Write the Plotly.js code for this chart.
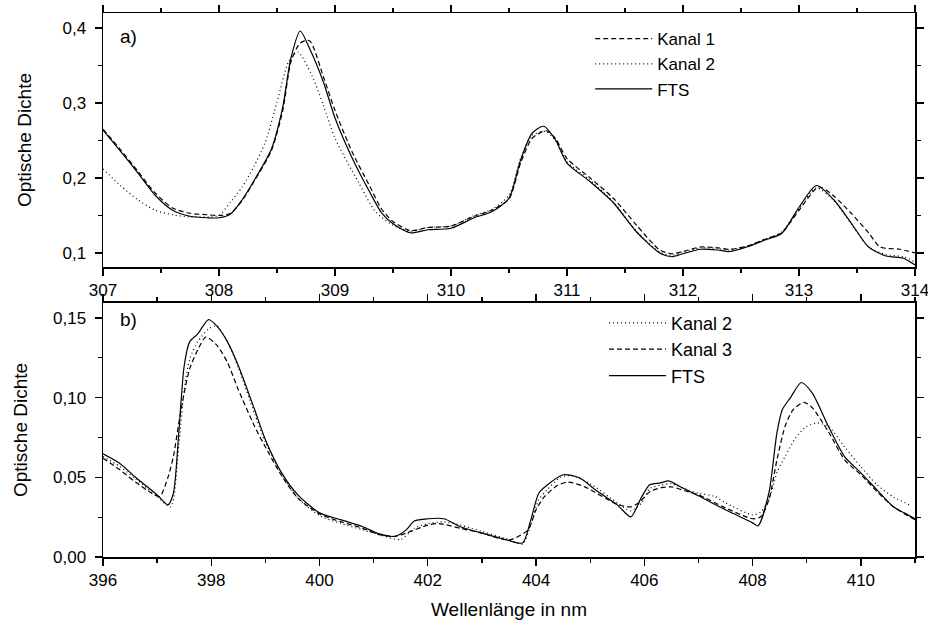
<!DOCTYPE html>
<html>
<head>
<meta charset="utf-8">
<script src="https://cdn.plot.ly/plotly-3.0.1.min.js"></script>
<style>html,body{margin:0;padding:0;background:#fff;}#chart{width:928px;height:624px;}</style>
</head>
<body>
<div id="chart"></div>
<script>
// ---- Panel a) 307–314 nm ----
const topFtsX = [307.0, 307.15, 307.3, 307.45, 307.6, 307.75, 307.9, 308.0, 308.1, 308.2, 308.3, 308.45, 308.55, 308.62, 308.7, 308.78, 308.9, 309.0, 309.15, 309.3, 309.4, 309.5, 309.65, 309.8, 310.0, 310.2, 310.35, 310.5, 310.6, 310.7, 310.8, 310.9, 311.0, 311.2, 311.4, 311.6, 311.8, 311.9, 312.0, 312.15, 312.3, 312.4, 312.55, 312.7, 312.85, 313.0, 313.15, 313.3, 313.45, 313.6, 313.75, 313.9, 314.0];
const topFtsY = [0.264, 0.236, 0.207, 0.177, 0.157, 0.149, 0.147, 0.147, 0.152, 0.171, 0.196, 0.238, 0.295, 0.36, 0.396, 0.373, 0.328, 0.28, 0.226, 0.181, 0.154, 0.139, 0.127, 0.131, 0.133, 0.147, 0.155, 0.173, 0.224, 0.26, 0.269, 0.251, 0.22, 0.195, 0.167, 0.128, 0.1, 0.095, 0.099, 0.105, 0.104, 0.102, 0.108, 0.117, 0.126, 0.161, 0.19, 0.171, 0.14, 0.108, 0.096, 0.093, 0.084];

const topK1X = [307.0, 307.15, 307.3, 307.45, 307.6, 307.75, 307.9, 308.0, 308.1, 308.2, 308.3, 308.45, 308.55, 308.62, 308.7, 308.78, 308.9, 309.0, 309.15, 309.3, 309.4, 309.5, 309.65, 309.8, 310.0, 310.2, 310.35, 310.5, 310.6, 310.7, 310.82, 310.9, 311.0, 311.2, 311.4, 311.6, 311.8, 311.9, 312.0, 312.15, 312.3, 312.4, 312.55, 312.7, 312.85, 313.0, 313.17, 313.3, 313.45, 313.6, 313.7, 313.87, 314.0];
const topK1Y = [0.265, 0.238, 0.209, 0.18, 0.16, 0.153, 0.151, 0.15, 0.153, 0.17, 0.195, 0.236, 0.29, 0.355, 0.38, 0.383, 0.335, 0.29, 0.234, 0.189, 0.159, 0.142, 0.13, 0.134, 0.136, 0.149, 0.157, 0.172, 0.22, 0.253, 0.263, 0.253, 0.226, 0.2, 0.173, 0.137, 0.104, 0.099, 0.102, 0.108, 0.107, 0.105, 0.109, 0.118, 0.127, 0.157, 0.188, 0.176, 0.153, 0.127, 0.108, 0.105, 0.1];

const topK2X = [307.0, 307.15, 307.3, 307.45, 307.6, 307.75, 307.9, 308.0, 308.1, 308.2, 308.3, 308.4, 308.5, 308.6, 308.68, 308.8, 308.9, 309.0, 309.2, 309.35, 309.5, 309.65, 309.8, 310.0, 310.2, 310.35, 310.5, 310.6, 310.7, 310.82, 310.9, 311.0, 311.2, 311.4, 311.6, 311.8, 311.9, 312.0, 312.15, 312.3, 312.4, 312.55, 312.7, 312.85, 313.0, 313.15, 313.3, 313.45, 313.6, 313.75, 313.9, 314.0];
const topK2Y = [0.212, 0.19, 0.171, 0.157, 0.151, 0.148, 0.148, 0.15, 0.168, 0.188, 0.215, 0.248, 0.301, 0.355, 0.368, 0.337, 0.297, 0.253, 0.195, 0.155, 0.137, 0.129, 0.134, 0.136, 0.15, 0.158, 0.177, 0.226, 0.257, 0.262, 0.25, 0.222, 0.197, 0.168, 0.129, 0.101, 0.097, 0.1, 0.107, 0.106, 0.104, 0.109, 0.118, 0.128, 0.159, 0.187, 0.17, 0.139, 0.108, 0.098, 0.095, 0.088];

// ---- Panel b) 396–411 nm ----
const botFtsX = [396.0, 396.3, 396.6, 397.0, 397.2, 397.3, 397.4, 397.5, 397.6, 397.75, 397.95, 398.1, 398.3, 398.5, 398.8, 399.0, 399.3, 399.6, 400.0, 400.4, 400.8, 401.1, 401.4, 401.6, 401.75, 402.0, 402.3, 402.6, 403.0, 403.4, 403.75, 403.9, 404.05, 404.2, 404.5, 404.8, 405.1, 405.5, 405.75, 405.95, 406.1, 406.3, 406.45, 406.7, 407.0, 407.5, 408.0, 408.1, 408.3, 408.45, 408.55, 408.7, 408.9, 409.1, 409.4, 409.7, 410.0, 410.3, 410.6, 410.8, 411.0];
const botFtsY = [0.0648, 0.059, 0.05, 0.039, 0.0327, 0.04, 0.078, 0.12, 0.135, 0.14, 0.149, 0.145, 0.135, 0.12, 0.0925, 0.0736, 0.0528, 0.039, 0.0277, 0.0233, 0.019, 0.0145, 0.013, 0.017, 0.0226, 0.024, 0.024, 0.019, 0.015, 0.0113, 0.0088, 0.023, 0.04, 0.045, 0.0516, 0.0497, 0.042, 0.0327, 0.0252, 0.0377, 0.0453, 0.0465, 0.0478, 0.0434, 0.0384, 0.0296, 0.0214, 0.0195, 0.04, 0.078, 0.0925, 0.1, 0.1095, 0.103, 0.082, 0.063, 0.0528, 0.042, 0.0315, 0.0277, 0.024];

const botK3X = [396.0, 396.3, 396.6, 396.9, 397.05, 397.2, 397.3, 397.4, 397.5, 397.6, 397.75, 397.9, 398.1, 398.3, 398.5, 398.8, 399.0, 399.3, 399.6, 400.0, 400.4, 400.8, 401.1, 401.4, 401.6, 402.0, 402.2, 402.6, 403.0, 403.5, 403.85, 404.0, 404.15, 404.4, 404.6, 404.9, 405.5, 405.75, 405.9, 406.1, 406.3, 406.5, 406.8, 407.0, 407.5, 408.0, 408.15, 408.3, 408.45, 408.6, 408.75, 408.95, 409.1, 409.4, 409.7, 410.0, 410.3, 410.6, 410.9, 411.0];
const botK3Y = [0.062, 0.055, 0.047, 0.04, 0.038, 0.05, 0.063, 0.084, 0.103, 0.118, 0.13, 0.138, 0.133, 0.122, 0.105, 0.082, 0.069, 0.051, 0.037, 0.027, 0.022, 0.018, 0.014, 0.013, 0.015, 0.02, 0.021, 0.018, 0.015, 0.0107, 0.017, 0.0296, 0.0377, 0.045, 0.047, 0.044, 0.033, 0.0315, 0.034, 0.041, 0.0434, 0.044, 0.041, 0.039, 0.0308, 0.024, 0.0252, 0.0358, 0.061, 0.082, 0.0925, 0.097, 0.0937, 0.0786, 0.061, 0.0516, 0.041, 0.0315, 0.0252, 0.0233];

const botK2X = [396.0, 396.3, 396.6, 397.0, 397.25, 397.4, 397.5, 397.6, 397.75, 397.95, 398.1, 398.3, 398.5, 398.8, 399.0, 399.3, 399.6, 400.0, 400.4, 400.8, 401.1, 401.5, 401.75, 402.0, 402.3, 402.6, 403.0, 403.5, 403.75, 403.9, 404.05, 404.2, 404.45, 404.65, 405.0, 405.5, 405.75, 405.95, 406.1, 406.3, 406.5, 406.8, 407.0, 407.3, 407.5, 408.0, 408.15, 408.3, 408.45, 408.6, 408.8, 409.0, 409.2, 409.4, 409.7, 410.0, 410.3, 410.6, 410.9];
const botK2Y = [0.063, 0.057, 0.049, 0.038, 0.0315, 0.07, 0.105, 0.124, 0.135, 0.143, 0.145, 0.135, 0.119, 0.09, 0.072, 0.052, 0.037, 0.026, 0.021, 0.017, 0.014, 0.011, 0.018, 0.021, 0.022, 0.02, 0.016, 0.011, 0.008, 0.02, 0.036, 0.042, 0.05, 0.051, 0.046, 0.034, 0.029, 0.034, 0.043, 0.045, 0.046, 0.042, 0.04, 0.038, 0.034, 0.0264, 0.0283, 0.0358, 0.053, 0.063, 0.075, 0.082, 0.084, 0.082, 0.069, 0.0566, 0.0453, 0.0377, 0.0327];

const FONT = 'Liberation Sans, Arial, Helvetica, sans-serif';
const DASHED = '5px,3px';
const DOTTED = '1px,3px';

function tr(x, y, name, dash, xa, ya, leg) {
  return {
    x: x, y: y, name: name, type: 'scatter', mode: 'lines',
    xaxis: xa, yaxis: ya, legend: leg,
    line: {color: '#000', width: 1.2, dash: dash, shape: 'spline', smoothing: 0.7}
  };
}

const data = [
  tr(topK1X, topK1Y, 'Kanal 1', DASHED, 'x', 'y', 'legend'),
  tr(topK2X, topK2Y, 'Kanal 2', DOTTED, 'x', 'y', 'legend'),
  tr(topFtsX, topFtsY, 'FTS', 'solid', 'x', 'y', 'legend'),
  tr(botK2X, botK2Y, 'Kanal 2', DOTTED, 'x2', 'y2', 'legend2'),
  tr(botK3X, botK3Y, 'Kanal 3', DASHED, 'x2', 'y2', 'legend2'),
  tr(botFtsX, botFtsY, 'FTS', 'solid', 'x2', 'y2', 'legend2')
];

const axCommon = {
  showline: true, linecolor: '#000', linewidth: 1.5, mirror: 'ticks',
  ticks: 'outside', ticklen: 7, tickwidth: 1.3, tickcolor: '#000',
  showgrid: false, zeroline: false, fixedrange: true,
  ticklabeloverflow: 'allow',
  tickfont: {family: FONT, size: 17, color: '#000'}
};
function ax(extra) { return Object.assign({}, axCommon, extra); }

const layout = {
  width: 928, height: 624,
  margin: {l: 103, r: 13, t: 13, b: 67},
  paper_bgcolor: '#fff', plot_bgcolor: '#fff',
  separators: ',.',
  font: {family: FONT, color: '#000'},
  showlegend: true,
  xaxis: ax({domain: [0, 1], anchor: 'y', range: [307, 314], dtick: 1, tick0: 307,
    minor: {dtick: 0.5, ticklen: 4, tickcolor: '#000', ticks: 'outside'}}),
  yaxis: ax({domain: [0.533, 1], anchor: 'x', range: [0.0813, 0.42], dtick: 0.1, tick0: 0, tickformat: '.1f',
    ticklabelstandoff: 5,
    minor: {dtick: 0.05, ticklen: 4, tickcolor: '#000', ticks: 'outside'},
    title: {text: 'Optische Dichte', font: {family: FONT, size: 19, color: '#000'}, standoff: 26}}),
  xaxis2: ax({domain: [0, 1], anchor: 'y2', range: [396, 411], dtick: 2, tick0: 396,
    minor: {dtick: 1, ticklen: 4, tickcolor: '#000', ticks: 'outside'},
    title: {text: 'Wellenlänge in nm', font: {family: FONT, size: 19, color: '#000'}, standoff: 14}}),
  yaxis2: ax({domain: [0, 0.467], anchor: 'x2', range: [0, 0.1594], dtick: 0.05, tick0: 0, tickformat: '.2f',
    ticklabelstandoff: 5,
    minor: {dtick: 0.025, ticklen: 4, tickcolor: '#000', ticks: 'outside'},
    title: {text: 'Optische Dichte', font: {family: FONT, size: 19, color: '#000'}, standoff: 20}}),
  legend: {x: 0.6, y: 0.985, xanchor: 'left', yanchor: 'top', bgcolor: 'rgba(0,0,0,0)',
    borderwidth: 0, itemwidth: 57, tracegroupgap: 0,
    font: {family: FONT, size: 17, color: '#000'}},
  legend2: {x: 0.617, y: 0.464, xanchor: 'left', yanchor: 'top', bgcolor: 'rgba(0,0,0,0)',
    borderwidth: 0, itemwidth: 57, tracegroupgap: 0,
    font: {family: FONT, size: 18, color: '#000'}},
  annotations: [
    {text: 'a)', xref: 'paper', yref: 'paper', x: 0.018, y: 0.956, xanchor: 'left', yanchor: 'middle',
      showarrow: false, font: {family: FONT, size: 19, color: '#000'}},
    {text: 'b)', xref: 'paper', yref: 'paper', x: 0.018, y: 0.436, xanchor: 'left', yanchor: 'middle',
      showarrow: false, font: {family: FONT, size: 19, color: '#000'}}
  ]
};

Plotly.newPlot('chart', data, layout, {displayModeBar: false, staticPlot: true});
</script>
</body>
</html>
